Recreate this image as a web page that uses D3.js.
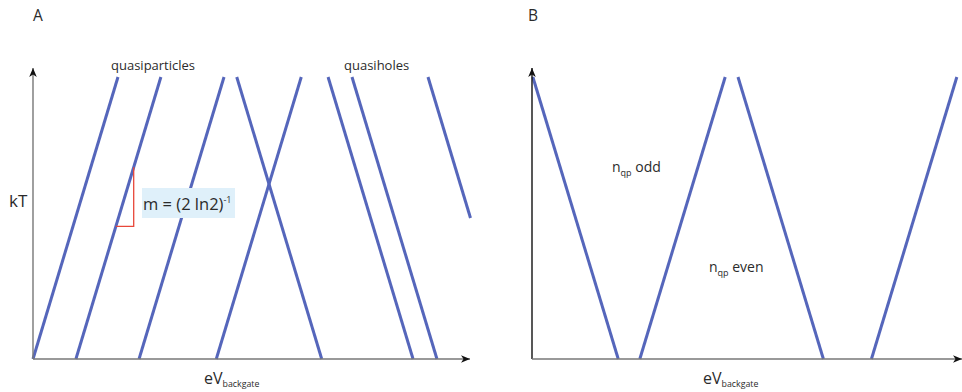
<!DOCTYPE html>
<html>
<head>
<meta charset="utf-8">
<script src="https://cdn.jsdelivr.net/npm/d3@7"></script>
<style>
  html, body { margin: 0; padding: 0; background: #fff; }
  svg { display: block; font-family: "Open Sans", "Noto Sans", sans-serif; }
</style>
</head>
<body>
<svg id="chart" width="962" height="392"></svg>
<script>
// Slope of the kT vs eV boundaries
const slopeM = 1 / (2 * Math.LN2);

// Panel A: eV where each boundary meets kT = 0, with the kT span drawn
const particleCrossings = [0, 0.70, 1.73, 2.99];
const particleKtRange = [[0, 1], [0, 1], [0, 1], [0, 1]];
const holeCrossings = [4.71, 6.20, 6.59, 7.83];
const holeKtRange = [[0, 1], [0, 1], [0, 1], [0.5, 1]];

// Panel B: alternating parity boundaries (-1 falls, +1 rises with eV)
const parityCrossings = [1.40, 1.75, 4.73, 5.51];
const parityDirection = [-1, 1, -1, 1];

// Slope marker drawn on the second quasiparticle line
const slopeLine = 1;
const slopeKt = [0.47, 0.68];

const panelLabels = ["A", "B"];
const groupLabels = ["quasiparticles", "quasiholes"];
const regionLabels = ["odd", "even"];

const svg = d3.select("#chart");
const blue = "#5566bb";
const ink = "#2b2b2b";

const defs = svg.append("defs");
defs.append("marker")
  .attr("id", "arrow")
  .attr("viewBox", "-10 -5 12 10")
  .attr("refX", 0).attr("refY", 0)
  .attr("markerUnits", "userSpaceOnUse")
  .attr("markerWidth", 12).attr("markerHeight", 10)
  .attr("orient", "auto")
  .append("path")
  .attr("d", "M0,0 L-9,-3.8 L-6.5,0 L-9,3.8 Z")
  .attr("fill", "#111");

// Shared kT scale
const y = d3.scaleLinear().domain([0, 1]).range([359, 77]);
const yTop = 68;

const xA = d3.scaleLinear().domain([0, 7.129]).range([33, 470]);
const xB = d3.scaleLinear().domain([0, 6.98]).range([532, 962]);

const line = d3.line().x(d => d[0]).y(d => d[1]);

function boundary(x, crossing, dir, kt) {
  return kt.map(k => [x(crossing + dir * k / slopeM), y(k)]);
}

function drawAxes(g, x, yColor, xColor) {
  g.append("line")
    .attr("x1", x.range()[0]).attr("y1", y(0))
    .attr("x2", x.range()[0]).attr("y2", yTop)
    .attr("stroke", yColor).attr("stroke-width", 1.4)
    .attr("marker-end", "url(#arrow)");
  g.append("line")
    .attr("x1", x.range()[0]).attr("y1", y(0))
    .attr("x2", x.range()[1]).attr("y2", y(0))
    .attr("stroke", xColor).attr("stroke-width", 1.4)
    .attr("marker-end", "url(#arrow)");
}

function axisTitle(g, xPos, main, sub, size) {
  const t = g.append("text")
    .attr("x", xPos).attr("y", 384)
    .attr("fill", ink).attr("font-size", size);
  t.append("tspan").text(main);
  t.append("tspan").attr("font-size", 8.8).attr("dy", 3).text(sub);
}

// ---------- Panel A ----------
const gA = svg.append("g");

particleCrossings.forEach((c, i) => {
  gA.append("path")
    .attr("d", line(boundary(xA, c, 1, particleKtRange[i])))
    .attr("stroke", blue).attr("stroke-width", 3).attr("fill", "none");
});
holeCrossings.forEach((c, i) => {
  gA.append("path")
    .attr("d", line(boundary(xA, c, -1, holeKtRange[i])))
    .attr("stroke", blue).attr("stroke-width", 3).attr("fill", "none");
});

drawAxes(gA, xA, "#777", "#777");

// slope triangle
const c0 = particleCrossings[slopeLine];
const pLow = [xA(c0 + slopeKt[0] / slopeM), y(slopeKt[0])];
const pHigh = [xA(c0 + slopeKt[1] / slopeM), y(slopeKt[1])];
gA.append("path")
  .attr("d", line([pLow, [pHigh[0], pLow[1]], pHigh]))
  .attr("stroke", "#e8473a").attr("stroke-width", 1.3).attr("fill", "none");

gA.append("rect")
  .attr("x", 142).attr("y", 188).attr("width", 93).attr("height", 30)
  .attr("fill", "#dff0fa");
const mt = gA.append("text")
  .attr("x", 143).attr("y", 210)
  .attr("fill", ink).attr("font-size", 16.5);
mt.append("tspan").text("m = (2 ln2)");
mt.append("tspan").attr("font-size", 9).attr("dy", -7).text("-1");

gA.append("text").attr("x", 111).attr("y", 70)
  .attr("fill", ink).attr("font-size", 13).text(groupLabels[0]);
gA.append("text").attr("x", 344).attr("y", 70)
  .attr("fill", ink).attr("font-size", 13).text(groupLabels[1]);

gA.append("text").attr("x", 33).attr("y", 21)
  .attr("fill", ink).attr("font-size", 15.5).text(panelLabels[0]);
gA.append("text").attr("x", 9).attr("y", 207)
  .attr("fill", ink).attr("font-size", 17).text("kT");
axisTitle(gA, 204, "eV", "backgate", 16);

// ---------- Panel B ----------
const gB = svg.append("g");

parityCrossings.forEach((c, i) => {
  gB.append("path")
    .attr("d", line(boundary(xB, c, parityDirection[i], [0, 1])))
    .attr("stroke", blue).attr("stroke-width", 3).attr("fill", "none");
});

drawAxes(gB, xB, "#111", "#777");

gB.append("text").attr("x", 528).attr("y", 21)
  .attr("fill", ink).attr("font-size", 15.5).text(panelLabels[1]);

function parityLabel(xPos, yPos, word) {
  const t = gB.append("text").attr("x", xPos).attr("y", yPos)
    .attr("fill", ink).attr("font-size", 14);
  t.append("tspan").text("n");
  t.append("tspan").attr("font-size", 9).attr("dy", 4).text("qp");
  t.append("tspan").attr("dy", -4).text(" " + word);
}
parityLabel(612, 172, regionLabels[0]);
parityLabel(709, 272, regionLabels[1]);

axisTitle(gB, 703, "eV", "backgate", 16);
</script>
</body>
</html>
